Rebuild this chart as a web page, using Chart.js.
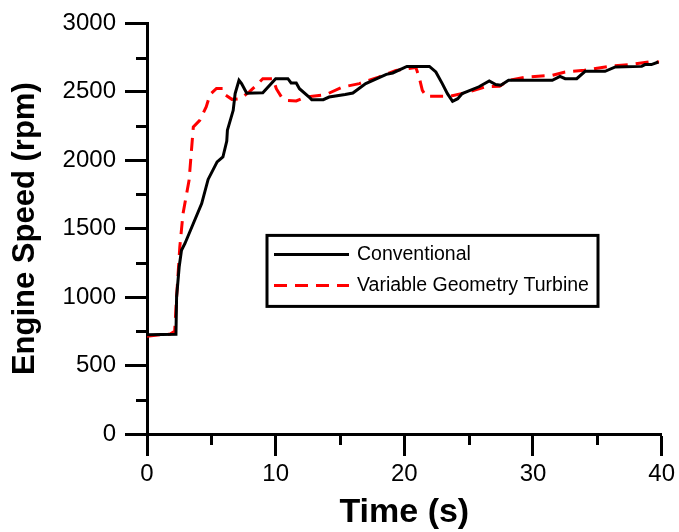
<!DOCTYPE html>
<html>
<head>
<meta charset="utf-8">
<script src="https://cdn.jsdelivr.net/npm/chart.js@4"></script>
<style>
  body { margin: 0; background: #fff; }
</style>
</head>
<body>
<canvas id="chartEngineSpeed" width="679" height="532"></canvas>
<script>
// conventional turbocharger
var timeConv = [0, 2.25, 2.3, 2.5, 2.68, 2.95, 3.6, 4.25, 4.75, 5.45, 5.9, 6.2, 6.25, 6.7, 6.85, 7.15, 7.35, 7.75, 9.0, 10.0, 10.95, 11.2, 11.6, 11.85, 12.6, 12.8, 13.7, 14.15, 15.4, 16.0, 17.0, 18.6, 19.1, 20.2, 21.95, 22.45, 22.95, 23.35, 23.75, 24.15, 24.5, 25.8, 26.6, 27.1, 27.5, 28.1, 31.5, 32.1, 32.5, 33.4, 34.05, 35.6, 36.4, 38.45, 38.7, 39.2, 39.75];
var speedConv = [725, 728, 1000, 1220, 1343, 1392, 1538, 1684, 1860, 1988, 2024, 2140, 2220, 2365, 2487, 2584, 2560, 2490, 2494, 2596, 2596, 2565, 2565, 2523, 2462, 2443, 2443, 2462, 2480, 2491, 2560, 2628, 2638, 2686, 2686, 2645, 2560, 2487, 2431, 2450, 2487, 2537, 2579, 2553, 2548, 2584, 2584, 2613, 2596, 2596, 2650, 2650, 2682, 2686, 2699, 2699, 2718];

// variable geometry turbine
var timeVgt = [0, 1.0, 1.8, 2.15, 2.3, 2.55, 2.8, 3.27, 3.6, 4.1, 4.6, 4.9, 5.4, 5.9, 6.05, 6.6, 7.25, 7.95, 8.5, 9.0, 9.8, 10.05, 10.45, 10.85, 11.6, 12.35, 13.9, 15.2, 16.5, 18.0, 19.35, 20.9, 21.15, 21.4, 21.7, 23.5, 25.0, 26.3, 27.4, 28.1, 29.4, 31.5, 32.5, 34.0, 35.9, 37.7, 39.0, 39.8];
var speedVgt = [715, 725, 730, 750, 1000, 1367, 1611, 1854, 2243, 2292, 2390, 2480, 2525, 2525, 2480, 2445, 2450, 2500, 2548, 2596, 2596, 2523, 2462, 2438, 2433, 2462, 2480, 2535, 2560, 2608, 2657, 2677, 2608, 2511, 2467, 2467, 2499, 2537, 2540, 2584, 2608, 2621, 2645, 2657, 2686, 2701, 2718, 2718];

var seriesNames = ['Conventional', 'Variable Geometry Turbine'];
var xMinorTicks = [5, 15, 25, 35];
var yMinorTicks = [250, 750, 1250, 1750, 2250, 2750];

var fontFamily = "'Liberation Sans', Arial, sans-serif";

function toPoints(xs, ys) {
    var pts = [];
    for (var i = 0; i < xs.length; i++) {
        pts.push({ x: xs[i], y: ys[i] });
    }
    return pts;
}

// short minor ticks, chart.js only has one tick length
var minorTicks = {
    id: 'minorTicks',
    afterDraw: function (chart) {
        var ctx = chart.ctx;
        var xs = chart.scales.x;
        var ys = chart.scales.y;
        var area = chart.chartArea;
        ctx.save();
        ctx.strokeStyle = '#000';
        ctx.lineWidth = 3;
        ctx.beginPath();
        xMinorTicks.forEach(function (v) {
            var px = Math.round(xs.getPixelForValue(v)) + 0.5;
            ctx.moveTo(px, area.bottom);
            ctx.lineTo(px, area.bottom + 11);
        });
        yMinorTicks.forEach(function (v) {
            var py = Math.round(ys.getPixelForValue(v)) + 0.5;
            ctx.moveTo(area.left, py);
            ctx.lineTo(area.left - 11, py);
        });
        ctx.stroke();
        ctx.restore();
    }
};

// boxed legend sitting inside the plot
var boxLegend = {
    id: 'boxLegend',
    afterDraw: function (chart) {
        var ctx = chart.ctx;
        var area = chart.chartArea;
        var left = area.left + 120;
        var top = area.top + 212;
        var width = 331;
        var height = 71;
        ctx.save();
        ctx.strokeStyle = '#000';
        ctx.lineWidth = 3;
        ctx.strokeRect(left, top, width, height);
        ctx.font = '19.5px ' + fontFamily;
        ctx.textBaseline = 'middle';
        ctx.fillStyle = '#000';
        chart.data.datasets.forEach(function (ds, i) {
            var y = top + 19 + i * 31;
            ctx.beginPath();
            ctx.strokeStyle = ds.borderColor;
            ctx.lineWidth = 3;
            ctx.setLineDash(ds.borderDash || []);
            ctx.moveTo(left + 7, y);
            ctx.lineTo(left + 82, y);
            ctx.stroke();
            ctx.setLineDash([]);
            ctx.fillText(ds.label, left + 90, y);
        });
        ctx.restore();
    }
};

function plainTick(value) {
    return String(value);
}

var chartEngineSpeed = new Chart(document.getElementById('chartEngineSpeed'), {
    type: 'line',
    data: {
        datasets: [{
            label: seriesNames[0],
            data: toPoints(timeConv, speedConv),
            borderColor: '#000000',
            borderWidth: 3,
            pointRadius: 0,
            tension: 0,
            fill: false
        }, {
            label: seriesNames[1],
            data: toPoints(timeVgt, speedVgt),
            borderColor: '#ff0000',
            borderWidth: 3,
            borderDash: [13, 8],
            pointRadius: 0,
            tension: 0,
            fill: false
        }]
    },
    options: {
        responsive: false,
        animation: false,
        layout: {
            autoPadding: false,
            padding: { top: 23, right: 16, left: 0, bottom: 0 }
        },
        plugins: {
            legend: { display: false },
            tooltip: { enabled: false }
        },
        scales: {
            x: {
                type: 'linear',
                min: 0,
                max: 40,
                ticks: {
                    stepSize: 10,
                    color: '#000',
                    padding: 4,
                    maxRotation: 0,
                    callback: plainTick,
                    font: { family: fontFamily, size: 24 }
                },
                grid: {
                    drawOnChartArea: false,
                    tickLength: 22,
                    tickWidth: 3,
                    tickColor: '#000'
                },
                border: { color: '#000', width: 3 },
                title: {
                    display: true,
                    text: 'Time (s)',
                    color: '#000',
                    padding: { top: 0, bottom: 2 },
                    font: { family: fontFamily, size: 34, weight: 'bold', lineHeight: 1 }
                },
                afterFit: function (scale) {
                    scale.height = 98;
                }
            },
            y: {
                min: 0,
                max: 3000,
                ticks: {
                    stepSize: 500,
                    color: '#000',
                    padding: 9,
                    callback: plainTick,
                    font: { family: fontFamily, size: 24 }
                },
                grid: {
                    drawOnChartArea: false,
                    tickLength: 22,
                    tickWidth: 3,
                    tickColor: '#000'
                },
                border: { color: '#000', width: 3 },
                title: {
                    display: true,
                    text: 'Engine Speed (rpm)',
                    color: '#000',
                    padding: { top: 10, bottom: 0 },
                    font: { family: fontFamily, size: 31, weight: 'bold', lineHeight: 1 }
                },
                afterFit: function (scale) {
                    scale.width = 147;
                }
            }
        }
    },
    plugins: [minorTicks, boxLegend]
});
</script>
</body>
</html>
